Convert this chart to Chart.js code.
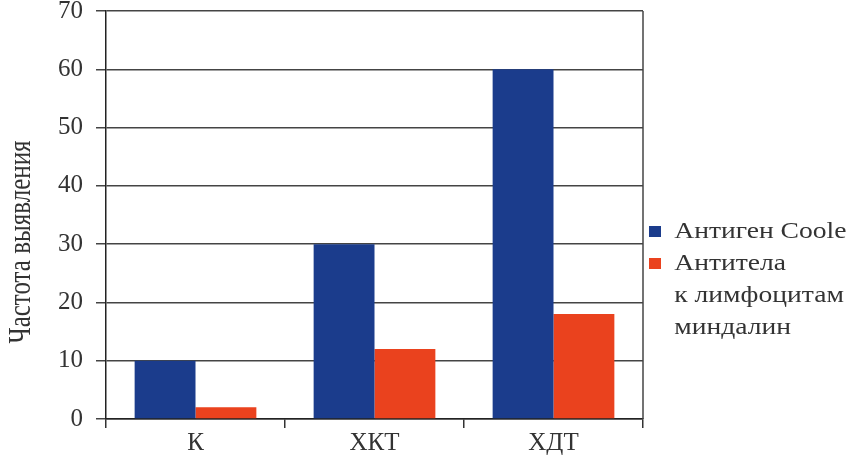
<!DOCTYPE html>
<html>
<head>
<meta charset="utf-8">
<script src="https://cdn.jsdelivr.net/npm/chart.js@4"></script>
<style>
    html, body { margin: 0; padding: 0; background: #fff; }
    #wrap { position: relative; width: 856px; height: 459px; }
    #legend {
        position: absolute; left: 649px; top: 215px;
        font-family: "Liberation Serif", "DejaVu Serif", serif;
        font-size: 23px; color: #333; line-height: 32px;
        transform: scaleX(1.2); transform-origin: 0 0;
    }
    .item { display: flex; align-items: flex-start; }
    .box { width: 10px; height: 11px; margin: 11px 11px 0 0; flex: none; }
</style>
</head>
<body>
<div id="wrap">
    <canvas id="chart" width="856" height="459"></canvas>
    <div id="legend"></div>
</div>
<script>
// Frequency of detection per group
const categories = ['К', 'ХКТ', 'ХДТ'];
const antigenValues = [10, 30, 60];
const antibodyValues = [2, 12, 18];
const seriesLabels = ['Антиген Coole', 'Антитела\nк лимфоцитам\nминдалин'];
const seriesColors = ['#1b3c8c', '#ea421e'];
const yTicks = [0, 10, 20, 30, 40, 50, 60, 70];
const yTitle = 'Частота выявления';

const serif = '"Liberation Serif", "DejaVu Serif", serif';

// right border of the plot and the rotated axis title
const framePlugin = {
    id: 'frame',
    afterDraw(chart) {
        const { ctx, chartArea } = chart;
        ctx.save();
        ctx.strokeStyle = '#444';
        ctx.lineWidth = 1.5;
        ctx.beginPath();
        ctx.moveTo(chartArea.right, chartArea.top);
        ctx.lineTo(chartArea.right, chartArea.bottom);
        ctx.stroke();

        ctx.translate(21, 242);
        ctx.rotate(-Math.PI / 2);
        ctx.scale(1, 1.3);
        ctx.fillStyle = '#333';
        ctx.font = '25px ' + serif;
        ctx.textAlign = 'center';
        ctx.textBaseline = 'middle';
        ctx.fillText(yTitle, 0, 0);
        ctx.restore();
    }
};

const chart = new Chart(document.getElementById('chart'), {
    type: 'bar',
    data: {
        labels: categories,
        datasets: [
            { label: seriesLabels[0], data: antigenValues, backgroundColor: seriesColors[0] },
            { label: seriesLabels[1], data: antibodyValues, backgroundColor: seriesColors[1] }
        ]
    },
    options: {
        responsive: false,
        animation: false,
        layout: { padding: { top: 11, right: 213, left: 0, bottom: 0 } },
        datasets: { bar: { categoryPercentage: 0.68, barPercentage: 1.0 } },
        plugins: { legend: { display: false }, tooltip: { enabled: false } },
        scales: {
            x: {
                offset: true,
                grid: { offset: true, drawOnChartArea: false, drawTicks: true, tickLength: 9, color: '#333', lineWidth: 1.5 },
                border: { color: '#222', width: 1.5 },
                ticks: { color: '#333', padding: 0, font: { family: serif, size: 25 } },
                afterFit(scale) {
                    scale.height = 40;
                    scale.paddingLeft = 0;
                    scale.paddingRight = 0;
                }
            },
            y: {
                min: 0,
                max: 70,
                afterBuildTicks(scale) { scale.ticks = yTicks.map(v => ({ value: v })); },
                grid: { color: '#444', lineWidth: 1.5, drawTicks: true, tickLength: 10 },
                border: { color: '#222', width: 1.5 },
                ticks: { color: '#333', padding: 13, font: { family: serif, size: 25 } },
                afterFit(scale) {
                    scale.width = 106;
                    scale.paddingTop = 0;
                    scale.paddingBottom = 0;
                }
            }
        }
    },
    plugins: [framePlugin]
});

// legend beside the plot
const legend = document.getElementById('legend');
chart.data.datasets.forEach(ds => {
    const item = document.createElement('div');
    item.className = 'item';
    const box = document.createElement('span');
    box.className = 'box';
    box.style.background = ds.backgroundColor;
    const text = document.createElement('span');
    text.innerHTML = ds.label.split('\n').join('<br>');
    item.appendChild(box);
    item.appendChild(text);
    legend.appendChild(item);
});
</script>
</body>
</html>
